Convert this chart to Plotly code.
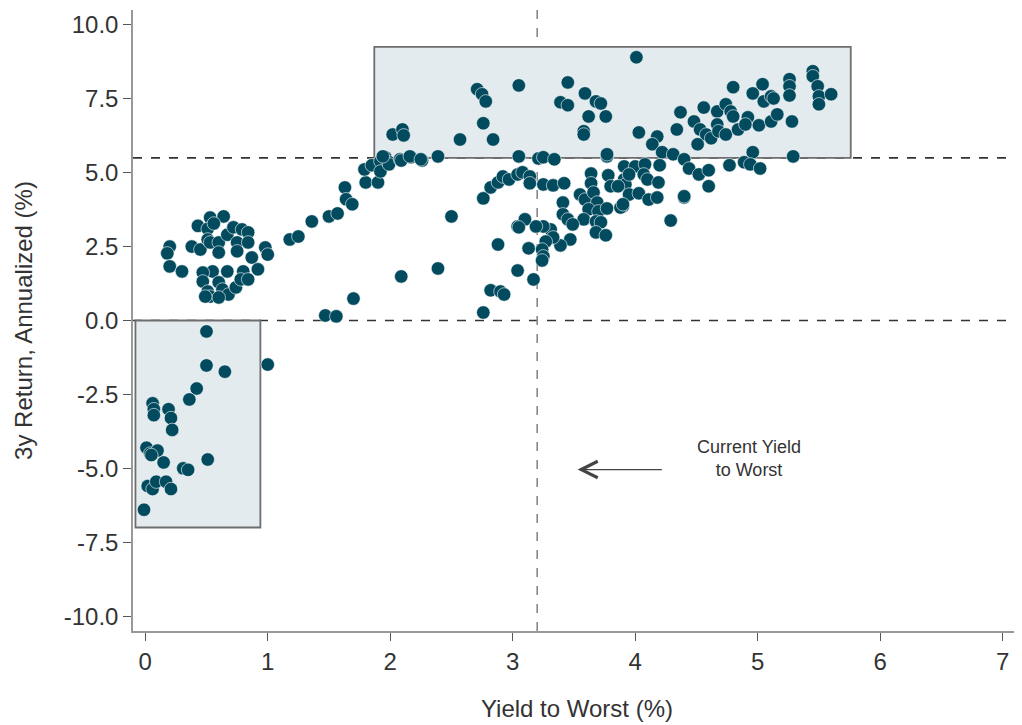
import plotly.graph_objects as go

# Yield to Worst (%) and 3y annualized return (%) per bond
yield_pct = [
    # negative-return cluster
    0.50, 0.50, 0.65, 1.00, 0.42, 0.36, 0.06, 0.07, 0.07, 0.19, 0.21, 0.22,
    0.01, 0.04, 0.10, 0.15, 0.31, 0.35, 0.51, 0.02, 0.06, 0.09, 0.17, 0.21,
    -0.01, 0.05,
    # low-yield positive cluster
    0.20, 0.18, 0.20, 0.30, 0.43, 0.53, 0.64, 0.51, 0.56, 0.38, 0.45, 0.51,
    0.53, 0.60, 0.60, 0.67, 0.72, 0.79, 0.84, 0.75, 0.75, 0.84, 0.98, 1.00,
    0.87, 0.92, 0.80, 0.67, 0.55, 0.47, 0.47, 0.51, 0.53, 0.60, 0.63, 0.68,
    0.74, 0.78, 0.84, 0.60, 0.49,
    # rising band 1-3
    1.18, 1.25, 1.36, 1.50, 1.57, 1.63, 1.64, 1.69, 1.80, 1.90, 1.79, 1.85,
    1.92, 1.96, 1.99, 1.92, 1.99, 1.94, 2.08, 2.17, 2.26, 2.39, 2.50, 2.39,
    2.09, 1.70, 1.47, 1.56, 2.76, 2.76, 2.82, 2.88, 2.92, 2.97, 2.88, 2.82,
    2.90, 2.93, 3.04, 3.04, 3.04,
    # upper box
    2.02, 2.10, 2.11, 2.57, 2.71, 2.75, 2.78, 2.76, 2.84, 3.05, 3.45, 3.59,
    3.39, 3.45, 3.68, 3.72, 3.62, 3.76, 3.58, 3.58, 2.09, 2.16, 2.25, 3.05,
    3.21, 3.25, 3.34, 3.77,
    4.01, 4.37, 4.56, 4.48, 4.53, 4.58, 4.62, 4.51, 4.34, 4.03, 4.18, 4.14,
    4.22, 4.31, 4.67, 4.74, 4.78, 4.80, 4.67, 4.68, 4.74, 4.80, 4.84, 4.92,
    4.90, 4.96, 5.04, 5.01, 5.05, 5.11, 5.13, 5.11, 5.16, 5.26, 5.26, 5.26,
    5.28, 5.45, 5.45, 5.49, 5.50, 5.50, 5.60, 4.96, 5.29, 3.77,
    # mid cluster 3-5
    4.40, 4.44, 4.52, 4.60, 4.60, 4.40, 4.77, 4.89, 4.94, 5.02,
    3.91, 4.00, 4.08, 4.20, 4.07, 4.10, 3.91, 3.92, 3.95, 4.03, 4.11, 4.18,
    4.19, 4.40, 3.90, 4.29,
    3.08, 3.14, 3.14, 3.25, 3.33, 3.42, 3.64, 3.64, 3.78, 3.80, 3.86, 3.95,
    3.55, 3.59, 3.66, 3.69, 3.62, 3.70, 3.77, 3.58, 3.68, 3.72, 3.68, 3.76,
    3.88, 3.41, 3.41, 3.45, 3.49, 3.47, 3.39, 3.31, 3.25, 3.19, 3.10, 3.05,
    3.33, 3.27, 3.24, 3.25, 3.24, 3.13, 3.17, 3.90,
]
return_3y = [
    -0.37, -1.52, -1.73, -1.49, -2.30, -2.67, -2.80, -3.00, -3.20, -3.00, -3.30, -3.70,
    -4.30, -4.50, -4.40, -4.80, -5.00, -5.05, -4.70, -5.60, -5.70, -5.45, -5.45, -5.70,
    -6.40, -4.55,
    2.50, 2.27, 1.83, 1.66, 3.20, 3.48, 3.52, 3.10, 3.28, 2.50, 2.40, 2.74,
    2.64, 2.64, 2.30, 2.90, 3.15, 3.08, 2.98, 2.64, 2.34, 2.64, 2.47, 2.23,
    2.13, 1.73, 1.66, 1.66, 1.66, 1.62, 1.32, 0.98, 0.81, 1.29, 1.05, 0.88,
    1.12, 1.39, 1.39, 0.78, 0.81,
    2.74, 2.84, 3.35, 3.52, 3.62, 4.50, 4.10, 3.93, 4.67, 4.67, 5.11, 5.25,
    5.38, 5.52, 5.35, 5.04, 5.28, 5.55, 5.45, 5.52, 5.41, 5.55, 3.52, 1.76,
    1.49, 0.74, 0.17, 0.14, 0.27, 4.13, 4.50, 4.67, 4.87, 4.77, 2.57, 1.02,
    0.98, 0.88, 3.18, 1.69, 4.94,
    6.29, 6.46, 6.26, 6.12, 7.82, 7.65, 7.41, 6.67, 6.12, 7.95, 8.05, 7.68,
    7.38, 7.28, 7.41, 7.34, 6.90, 6.90, 6.40, 6.29, 5.41, 5.55, 5.45, 5.55,
    5.48, 5.52, 5.45, 5.55,
    8.90, 7.04, 7.20, 6.73, 6.46, 6.29, 6.16, 5.96, 6.46, 6.36, 6.22, 5.96,
    5.69, 5.62, 7.07, 7.31, 7.07, 6.90, 6.63, 6.40, 6.29, 7.89, 6.46, 6.87,
    6.63, 7.68, 7.99, 6.60, 7.41, 7.58, 7.51, 6.73, 6.97, 8.16, 7.92, 7.61,
    6.73, 8.43, 8.26, 7.92, 7.58, 7.31, 7.65, 5.69, 5.55, 5.62,
    5.45, 5.14, 4.94, 5.08, 4.54, 4.16, 5.25, 5.35, 5.28, 5.14,
    5.21, 5.21, 5.28, 5.25, 4.94, 4.77, 4.77, 4.60, 4.26, 4.30, 4.09, 4.16,
    4.67, 4.20, 3.86, 3.38,
    5.01, 4.87, 4.64, 4.60, 4.57, 4.64, 4.97, 4.64, 4.91, 4.54, 4.54, 4.94,
    4.26, 4.09, 4.33, 3.99, 3.76, 3.69, 3.79, 3.42, 3.35, 3.32, 2.98, 2.88,
    3.82, 3.99, 3.59, 3.42, 3.25, 2.74, 2.54, 3.08, 3.18, 3.18, 3.42, 3.15,
    2.81, 2.67, 2.40, 2.17, 2.03, 2.44, 1.39, 3.93,
]

x_ticks = [0, 1, 2, 3, 4, 5, 6, 7]
y_ticks = [10, 7.5, 5, 2.5, 0, -2.5, -5, -7.5, -10]
y_tick_text = ["10.0", "7.5", "5.0", "2.5", "0.0", "-2.5", "-5.0", "-7.5", "-10.0"]

current_ytw = 3.2
return_threshold = 5.5
low_box = dict(x0=-0.08, x1=0.94, y0=-7.0, y1=0.0)
high_box = dict(x0=1.87, x1=5.76, y0=5.5, y1=9.25)

font_family = "Liberation Sans, Arial, sans-serif"
text_color = "#333333"
fsize = 24

fig = go.Figure()
fig.add_trace(go.Scatter(
    x=yield_pct, y=return_3y, mode="markers",
    marker=dict(size=13.5, color="#024a5e", line=dict(width=0.6, color="#ffffff")),
    hoverinfo="x+y", showlegend=False,
))

for b in (low_box, high_box):
    fig.add_shape(type="rect", xref="x", yref="y", layer="below",
                  fillcolor="#e3ebee", line=dict(color="#6e6e6e", width=1.8), **b)

for yv in (0, return_threshold):
    fig.add_shape(type="line", xref="paper", yref="y", x0=0, x1=1, y0=yv, y1=yv,
                  layer="below", line=dict(color="#333333", width=1.6, dash="dash"))
fig.add_shape(type="line", xref="x", yref="paper", x0=current_ytw, x1=current_ytw,
              y0=0, y1=1, layer="below",
              line=dict(color="#888888", width=1.6, dash="dash"))

fig.add_annotation(x=4.93, y=-4.67, text="Current Yield<br>to Worst", showarrow=False,
                   font=dict(family=font_family, size=18, color=text_color), align="center")
fig.add_annotation(x=3.53, y=-5.04, ax=4.23, ay=-5.04, axref="x", ayref="y",
                   xref="x", yref="y", text="", showarrow=True,
                   arrowhead=5, arrowsize=2.5, arrowwidth=1.3, arrowcolor="#444444")

fig.update_layout(
    width=1022, height=725,
    margin=dict(l=125, r=9, t=2, b=102),
    paper_bgcolor="white", plot_bgcolor="white",
    font=dict(family=font_family, size=fsize, color=text_color),
    xaxis=dict(
        range=[-0.1, 7.15], tickvals=x_ticks, showgrid=False, zeroline=False,
        automargin=False,
        showline=True, linecolor="#999999", linewidth=1.5,
        ticks="outside", ticklen=8, tickcolor="#555555", tickwidth=1.2,
        title=dict(text="Yield to Worst (%)", standoff=27, font=dict(size=fsize)),
        tickfont=dict(size=fsize),
    ),
    yaxis=dict(
        range=[-10.5, 10.5], tickvals=y_ticks, ticktext=y_tick_text,
        showgrid=False, zeroline=False, automargin=False,
        showline=True, linecolor="#999999", linewidth=1.5,
        ticks="outside", ticklen=8, tickcolor="#555555", tickwidth=1.2,
        title=dict(text="3y Return, Annualized (%)", standoff=24, font=dict(size=fsize)),
        tickfont=dict(size=fsize),
    ),
)

fig.write_html("out.html")
